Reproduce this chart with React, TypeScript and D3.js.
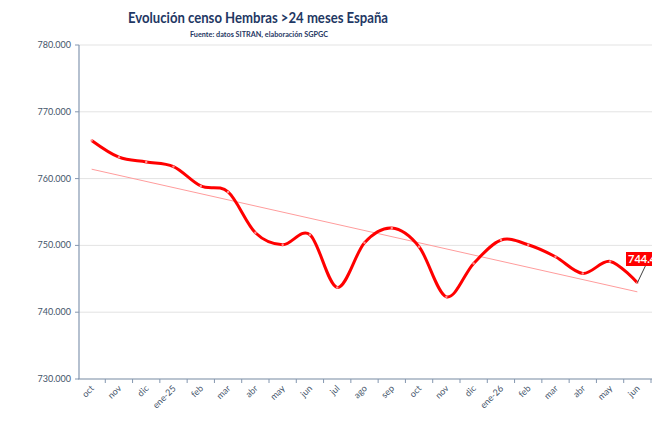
import React from 'react';
import * as d3 from 'd3';

const months = ['oct', 'nov', 'dic', 'ene-25', 'feb', 'mar', 'abr', 'may', 'jun', 'jul', 'ago', 'sep',
  'oct ', 'nov ', 'dic ', 'ene-26', 'feb ', 'mar ', 'abr ', 'may ', 'jun ']
const censo = [765700, 763200, 762500, 761800, 758900, 758000, 751900, 750100, 751600, 743700, 750400, 752600,
  749800, 742300, 747300, 750800, 750100, 748300, 745800, 747600, 744400]
const yTicks = [730000, 740000, 750000, 760000, 770000, 780000]

const W = 652
const H = 427
const navy = '#1f3864'
const axisCol = '#8497b0'
const labelCol = '#44546a'

const es = d3.formatLocale({ decimal: ',', thousands: '.', grouping: [3], currency: ['', '€'] })
const fmt = es.format(',.0f')

export default function App() {
  const x = d3.scaleBand().domain(months).range([78, 651])
  const y = d3.scaleLinear().domain([730000, 780000]).range([379, 45])
  const cx = (m: string) => (x(m) as number) + x.bandwidth() / 2

  const line = d3.line<number>()
    .x((d, i) => cx(months[i]))
    .y(d => y(d))
    .curve(d3.curveCardinal.tension(0))

  // linear trend over the series
  const idx = censo.map((_, i) => i)
  const mx = d3.mean(idx) as number
  const my = d3.mean(censo) as number
  const slope = d3.sum(idx, i => (i - mx) * (censo[i] - my)) / d3.sum(idx, i => (i - mx) ** 2)
  const icpt = my - slope * mx
  const last = censo.length - 1

  const lx = cx(months[last])
  const ly = y(censo[last])

  return (
    <svg width={W} height={H} style={{ position: 'absolute', left: 0, top: 0, background: '#fff' }}
      fontFamily="Lato, 'Open Sans', sans-serif">
      <text x={258} y={23} textAnchor="middle" fontSize={15.5} fontWeight="bold" fill={navy}
        textLength={260} lengthAdjust="spacingAndGlyphs">
        Evolución censo Hembras &gt;24 meses España
      </text>
      <text x={259} y={37} textAnchor="middle" fontSize={8.2} fontWeight="bold" fill={navy}
        textLength={138} lengthAdjust="spacingAndGlyphs">
        Fuente: datos SITRAN, elaboración SGPGC
      </text>

      {/* grid */}
      {yTicks.map(t => (
        <line key={t} x1={79} x2={W} y1={y(t)} y2={y(t)} stroke="#e3e3e3" strokeWidth={1} />
      ))}

      {/* y axis */}
      <line x1={79} x2={79} y1={y(780000)} y2={y(730000)} stroke={axisCol} strokeWidth={1.2} />
      {yTicks.map(t => (
        <g key={'t' + t}>
          <line x1={75} x2={79} y1={y(t)} y2={y(t)} stroke={axisCol} />
          <text x={71} y={y(t) + 3} textAnchor="end" fontSize={9} fill={labelCol}>{fmt(t)}</text>
        </g>
      ))}

      {/* x axis */}
      <line x1={78} x2={W} y1={y(730000)} y2={y(730000)} stroke={axisCol} strokeWidth={1.2} />
      {months.map(m => (
        <line key={'k' + m} x1={(x(m) as number) + x.bandwidth()} x2={(x(m) as number) + x.bandwidth()}
          y1={379} y2={383} stroke={axisCol} />
      ))}
      {months.map(m => (
        <text key={'l' + m} transform={`translate(${cx(m) + 3},${389}) rotate(-45)`} textAnchor="end"
          fontSize={9} fill={labelCol}>{m.trim()}</text>
      ))}

      {/* trend */}
      <line x1={cx(months[0])} y1={y(icpt)} x2={lx} y2={y(icpt + slope * last)} stroke="#ff9c9c" strokeWidth={1} />

      {/* series */}
      <path d={line(censo) as string} fill="none" stroke="#ff0000" strokeWidth={3} strokeLinejoin="round" />
      {censo.map((v, i) => (
        <circle key={i} cx={cx(months[i])} cy={y(v)} r={1.2} fill="#ff9090" />
      ))}

      {/* last value label, cut by the right edge as in the source */}
      <line x1={lx} y1={ly} x2={lx + 8} y2={266} stroke="#404040" strokeWidth={1} />
      <rect x={626} y={252} width={40} height={14} fill="#ff0000" />
      <text x={628} y={263} fontSize={11} fontWeight="bold" fill="#fff">{fmt(censo[last])}</text>
    </svg>
  )
}
